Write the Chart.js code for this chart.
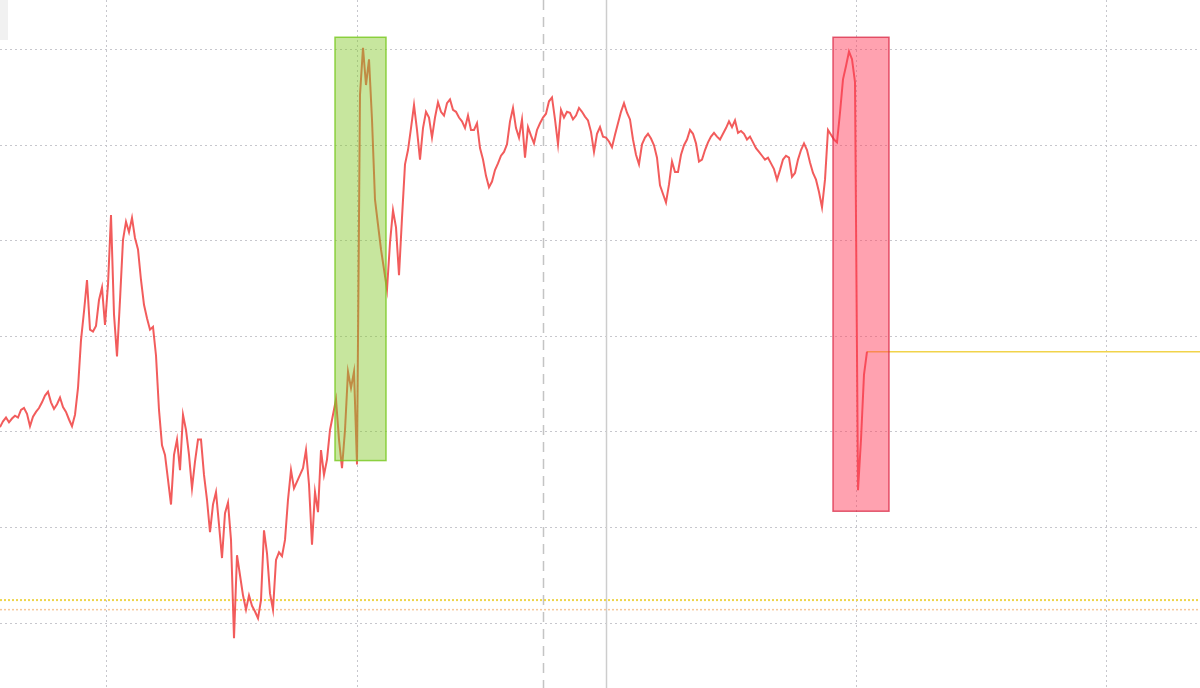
<!DOCTYPE html>
<html>
<head>
<meta charset="utf-8">
<script src="https://cdn.jsdelivr.net/npm/chart.js@4/dist/chart.umd.min.js"></script>
<style>
  html, body { margin: 0; padding: 0; background: #ffffff; }
  #wrap { width: 1200px; height: 688px; position: relative; }
</style>
</head>
<body>
<div id="wrap"><canvas id="grafico"></canvas></div>
<script>
// time axis: first sample and spacing between samples
const startTime = 28.6;
const timeStep = 0.6;

// price readings, one per time step
const prices = [
  30.5, 31.1, 31.5, 31.0, 31.4, 31.7, 31.5, 32.3, 32.5, 31.9,
  30.6, 31.6, 32.1, 32.5, 33.1, 33.8, 34.2, 33.1, 32.4, 32.9,
  33.6, 32.6, 32.1, 31.3, 30.6, 31.8, 34.6, 39.6, 42.6, 45.9,
  40.7, 40.5, 41.1, 43.8, 45.1, 41.2, 45.4, 52.7, 42.3, 37.9,
  43.8, 50.1, 52.0, 50.9, 52.4, 50.3, 49.1, 45.9, 43.3, 41.9,
  40.7, 41.0, 38.0, 32.3, 28.6, 27.6, 25.0, 22.4, 27.6, 29.2,
  26.0, 31.8, 30.2, 27.6, 24.1, 26.9, 29.2, 29.2, 25.5, 22.9,
  19.5, 22.4, 23.7, 20.3, 16.8, 21.5, 22.6, 18.7, 8.4, 17.1,
  15.0, 12.9, 11.4, 12.9, 11.8, 11.2, 10.5, 12.4, 19.7, 17.3,
  13.1, 11.4, 16.6, 17.4, 17.0, 18.7, 22.9, 26.0, 24.1, 24.8,
  25.5, 26.2, 28.1, 24.5, 18.2, 23.7, 21.6, 28.1, 25.5, 27.1,
  30.2, 31.8, 33.4, 29.2, 26.2, 30.2, 36.3, 34.6, 36.3, 26.6,
  65.3, 70.2, 66.3, 69.0, 62.7, 54.3, 51.7, 49.1, 47.0, 44.9,
  49.8, 53.2, 51.4, 46.4, 52.4, 58.0, 59.5, 61.8, 64.2, 61.6,
  58.5, 61.8, 63.5, 62.9, 60.8, 62.9, 64.5, 63.5, 63.1, 64.4,
  64.8, 63.7, 63.5, 62.9, 62.5, 61.8, 63.1, 61.6, 61.6, 62.3,
  59.7, 58.5, 56.8, 55.6, 56.2, 57.4, 58.1, 58.9, 59.3, 60.1,
  62.5, 63.9, 61.8, 60.8, 62.7, 58.7, 61.9, 61.0, 60.2, 61.6,
  62.3, 62.9, 63.3, 64.6, 65.0, 62.7, 60.1, 63.7, 62.9, 63.5,
  63.4, 62.7, 63.1, 63.9, 63.5, 63.0, 62.6, 61.4, 59.3, 61.2,
  61.9, 60.9, 60.8, 60.4, 59.8, 61.1, 62.3, 63.5, 64.4, 63.4,
  62.7, 60.6, 59.0, 58.0, 60.1, 60.8, 61.2, 60.7, 60.0, 58.7,
  55.8, 54.9, 54.0, 55.9, 58.3, 57.2, 57.2, 59.0, 60.0, 60.6,
  61.6, 61.2, 60.2, 58.3, 58.5, 59.5, 60.3, 60.9, 61.3, 60.9,
  60.6, 61.2, 61.8, 62.5, 61.9, 62.6, 61.3, 61.5, 61.2, 60.6,
  60.9, 60.3, 59.7, 59.3, 58.9, 58.5, 58.7, 58.1, 57.5, 56.4,
  57.4, 58.5, 58.9, 58.7, 56.7, 57.1, 58.5, 59.5, 60.2, 59.5,
  58.2, 57.1, 56.4, 55.1, 53.5, 56.4, 61.6, 61.1, 60.6, 60.3,
  63.4, 66.9, 68.3, 69.8, 69.0, 66.6, 23.9, 29.2, 36.0, 38.4
];

// visible window
const timeMin = 28.6;
const timeMax = 268.6;
const priceMin = 3.2;
const priceMax = 75.2;

// flat level after the last price
const lastLevelStart = 202.0;
const lastLevel = 38.4;

// horizontal reference levels
const levelYellow = 12.4;
const levelOrange = 11.4;

// vertical markers
const dashedMarker = 137.2;
const solidMarker = 149.8;

// highlighted zones: [start, end, top, bottom]
const zoneGreen = [95.6, 105.8, 71.3, 27.0];
const zoneRed = [195.2, 206.4, 71.3, 21.7];

const pricePoints = prices.map((p, i) => ({ x: +(startTime + i * timeStep).toFixed(2), y: p }));

const markersPlugin = {
  id: "markers",
  beforeDatasetsDraw(chart) {
    const { ctx, chartArea, scales } = chart;
    ctx.save();
    ctx.lineWidth = 1.5;
    ctx.strokeStyle = "rgba(190,190,190,0.9)";
    ctx.setLineDash([10, 7]);
    let px = Math.round(scales.x.getPixelForValue(dashedMarker)) + 0.5;
    ctx.beginPath(); ctx.moveTo(px, chartArea.top); ctx.lineTo(px, chartArea.bottom); ctx.stroke();
    ctx.setLineDash([]);
    ctx.strokeStyle = "rgba(205,205,205,1)";
    px = Math.round(scales.x.getPixelForValue(solidMarker)) + 0.5;
    ctx.beginPath(); ctx.moveTo(px, chartArea.top); ctx.lineTo(px, chartArea.bottom); ctx.stroke();
    // small grey panel in the corner
    ctx.fillStyle = "#f1f1f1";
    ctx.fillRect(chartArea.left, chartArea.top, 8, 40);
    ctx.restore();
  },
  afterDatasetsDraw(chart) {
    const { ctx, scales } = chart;
    const zona = (z, fill, stroke) => {
      const x1 = scales.x.getPixelForValue(z[0]);
      const x2 = scales.x.getPixelForValue(z[1]);
      const y1 = scales.y.getPixelForValue(z[2]);
      const y2 = scales.y.getPixelForValue(z[3]);
      ctx.fillStyle = fill;
      ctx.fillRect(x1, y1, x2 - x1, y2 - y1);
      ctx.lineWidth = 1.5;
      ctx.strokeStyle = stroke;
      ctx.strokeRect(x1, y1, x2 - x1, y2 - y1);
    };
    ctx.save();
    zona(zoneGreen, "rgba(130,200,40,0.45)", "rgba(120,200,30,0.8)");
    zona(zoneRed, "rgba(255,60,90,0.48)", "rgba(215,30,60,0.7)");
    ctx.restore();
  }
};

const gridColor = (c) => (Math.abs(c.tick.value % 10) < 1e-6 ? "rgba(196,196,202,0.95)" : "rgba(0,0,0,0)");

new Chart(document.getElementById("grafico"), {
  type: "line",
  data: {
    datasets: [
      {
        label: "Preço",
        data: pricePoints,
        borderColor: "rgba(240,70,70,0.88)",
        borderWidth: 2,
        pointRadius: 0,
        tension: 0
      },
      {
        label: "Último",
        data: [{ x: lastLevelStart, y: lastLevel }, { x: timeMax, y: lastLevel }],
        borderColor: "#f1d34a",
        borderWidth: 1.5,
        pointRadius: 0
      },
      {
        label: "Nível 1",
        data: [{ x: timeMin, y: levelYellow }, { x: timeMax, y: levelYellow }],
        borderColor: "#eed54a",
        borderWidth: 2,
        borderDash: [2, 2],
        pointRadius: 0
      },
      {
        label: "Nível 2",
        data: [{ x: timeMin, y: levelOrange }, { x: timeMax, y: levelOrange }],
        borderColor: "#f6c79a",
        borderWidth: 1.5,
        borderDash: [2, 2],
        pointRadius: 0
      }
    ]
  },
  options: {
    responsive: true,
    maintainAspectRatio: false,
    animation: false,
    layout: { padding: 0 },
    plugins: { legend: { display: false }, tooltip: { enabled: false } },
    scales: {
      x: {
        type: "linear",
        min: timeMin,
        max: timeMax,
        ticks: { display: false, stepSize: 50 },
        grid: { drawTicks: false, color: gridColor, lineWidth: 1 },
        border: { display: false, dash: [2, 3] }
      },
      y: {
        min: priceMin,
        max: priceMax,
        ticks: { display: false, stepSize: 10 },
        grid: { drawTicks: false, color: gridColor, lineWidth: 1 },
        border: { display: false, dash: [2, 3] }
      }
    }
  },
  plugins: [markersPlugin]
});
</script>
</body>
</html>
